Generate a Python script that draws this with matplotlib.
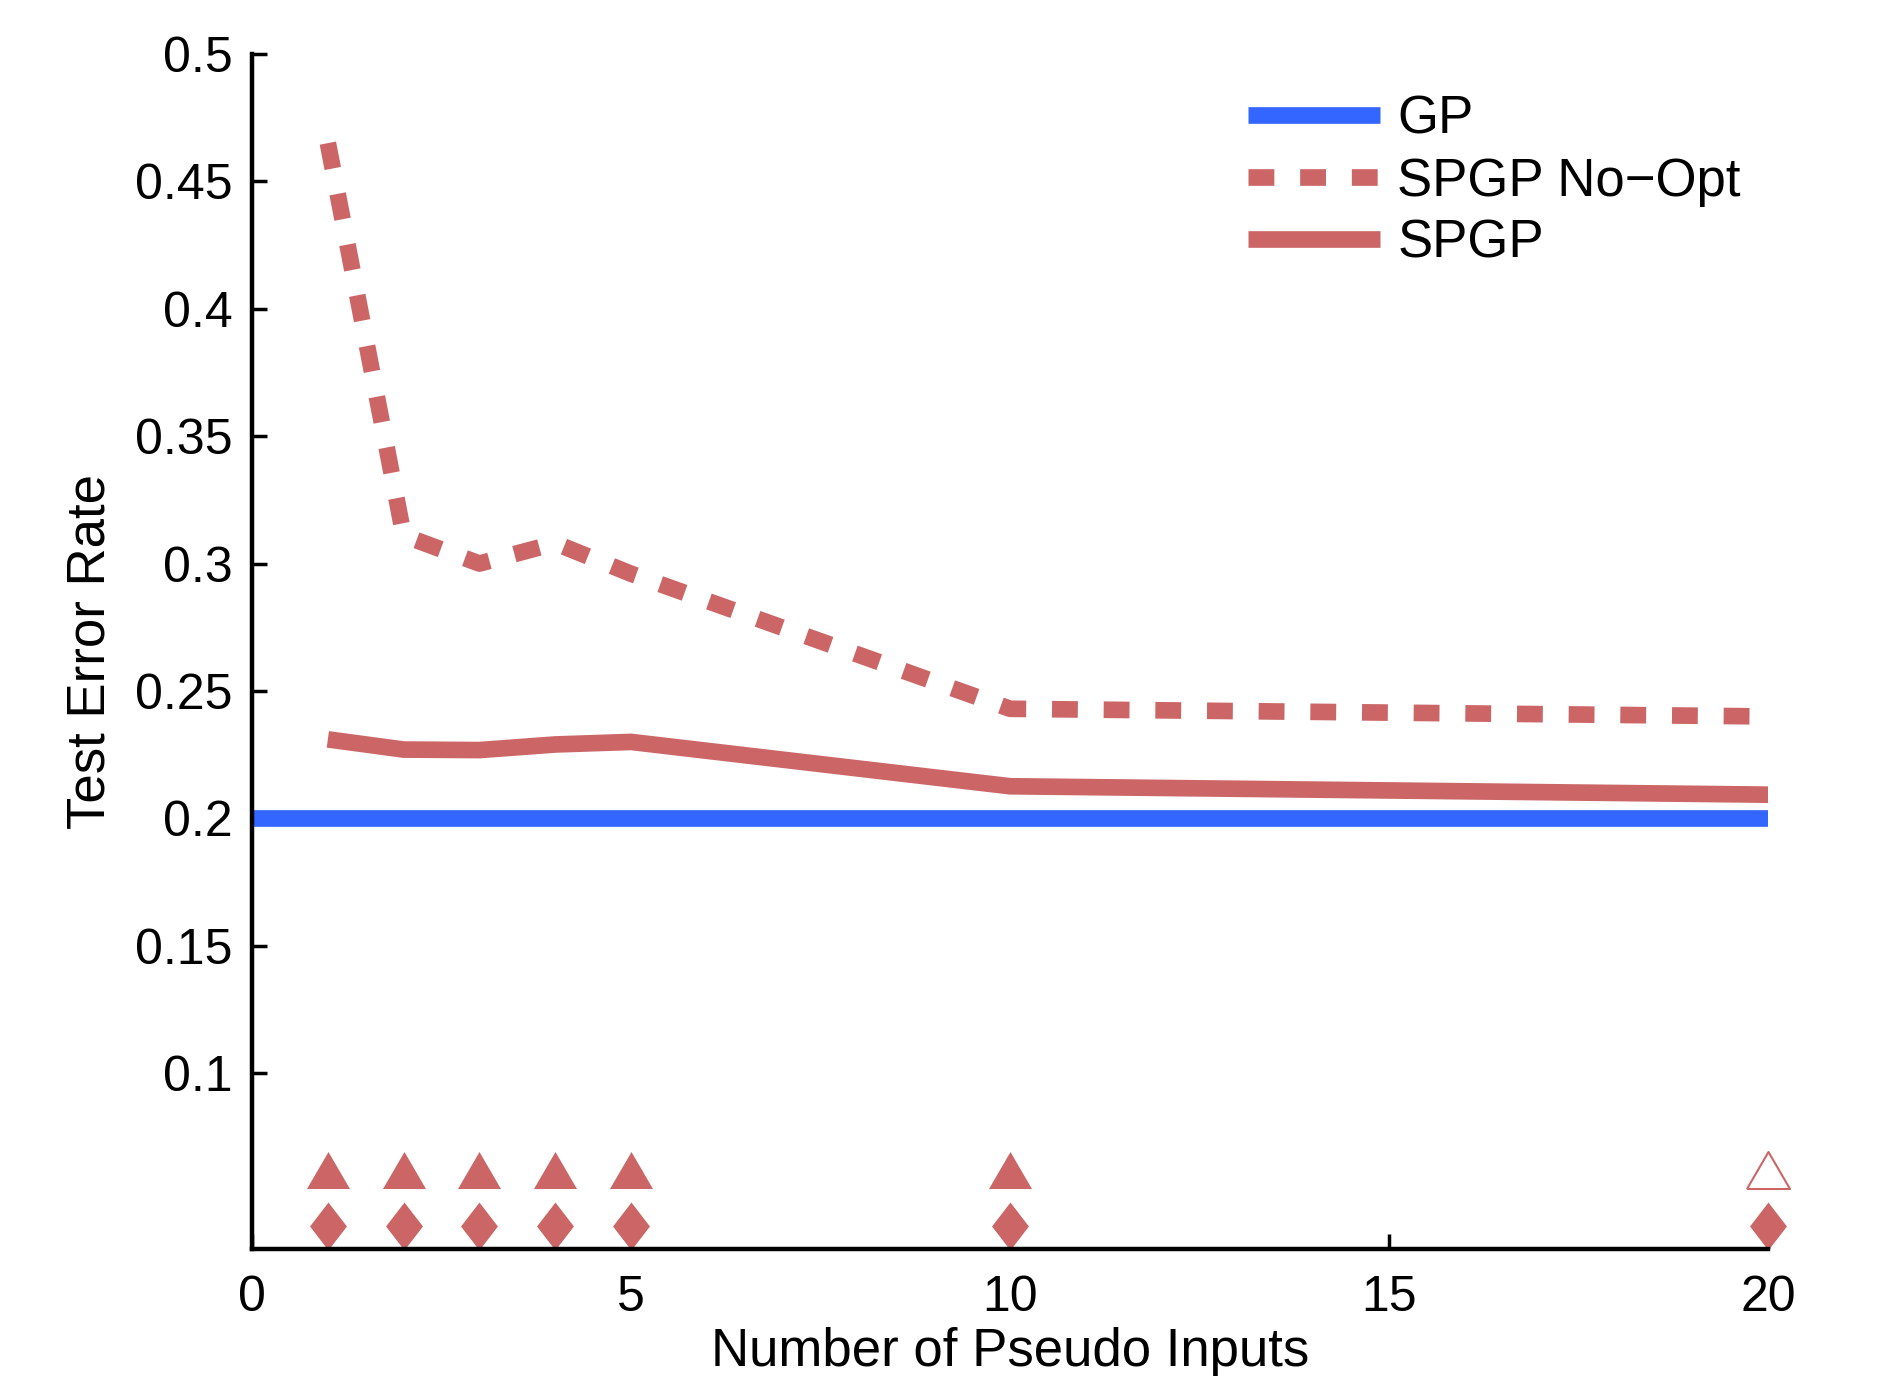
#!/usr/bin/env python3

import numpy as np
import matplotlib
matplotlib.use('Agg')
import matplotlib.pyplot as plt
from matplotlib.ticker import FuncFormatter

#data
n_pseudo = [1, 2, 3, 4, 5, 10, 20]
gp_x = [0, 20]
gp_err = [0.2, 0.2]
spgp_noopt = [0.465, 0.311, 0.300, 0.308, 0.296, 0.243, 0.240]
spgp = [0.231, 0.227, 0.2268, 0.229, 0.230, 0.2126, 0.2093]

#significance markers at the bottom
tri_y = [0.062] * 7
tri_filled = [True, True, True, True, True, True, False]
dia_y = [0.040] * 7

red = '#CC6666'
blue = '#3366FF'
fs = 36   # tick labels
lfs = 38  # axis labels, legend

plt.rcParams['font.family'] = ['Liberation Sans', 'DejaVu Sans']
plt.rcParams['font.size'] = fs

fig = plt.figure(figsize=(18.81, 13.76), dpi=100)
ax = fig.add_axes([0.134, 0.0923, 0.806, 0.8685])

lw = 12
ax.plot(gp_x, gp_err, color=blue, lw=lw, solid_capstyle='butt', label='GP')
ax.plot(n_pseudo, spgp_noopt, color=red, lw=lw, dashes=(1.55, 1.55),
        dash_capstyle='butt', label='SPGP No\u2212Opt')
ax.plot(n_pseudo, spgp, color=red, lw=lw, solid_capstyle='butt',
        solid_joinstyle='miter', label='SPGP')

#marker shapes (closed polygons)
tri = [(-0.5, -0.43), (0.5, -0.43), (0, 0.43), (-0.5, -0.43)]
dia = [(-0.385, 0), (0, 0.5), (0.385, 0), (0, -0.5), (-0.385, 0)]
for x, y, f in zip(n_pseudo, tri_y, tri_filled):
    ax.plot(x, y, marker=tri, ms=31, mfc=red if f else 'white', mec=red,
            mew=0 if f else 1.5, ls='none', clip_on=False)
ax.plot(n_pseudo, dia_y, marker=dia, ms=34.5, color=red, mew=0,
        ls='none', clip_on=False)

ax.set_xlim(0, 20)
ax.set_ylim(0.031, 0.5)
ax.set_xticks([0, 5, 10, 15, 20])
ax.set_yticks(np.arange(0.1, 0.501, 0.05))
ax.yaxis.set_major_formatter(FuncFormatter(lambda v, p: ('%.2f' % v).rstrip('0')))
ax.spines['top'].set_visible(False)
ax.spines['right'].set_visible(False)
for s in ['left', 'bottom']:
    ax.spines[s].set_linewidth(3.2)
ax.tick_params(direction='in', length=11, width=2.5, pad=14, labelsize=fs)
ax.tick_params(axis='x', pad=19)

ax.set_xlabel('Number of Pseudo Inputs', fontsize=lfs, labelpad=4)
ax.set_ylabel('Test Error Rate', fontsize=lfs, labelpad=14)

fig.legend(loc='upper left', bbox_to_anchor=(0.6635, 0.931), frameon=False,
           borderpad=0, borderaxespad=0, handlelength=2.5, handletextpad=0.33,
           labelspacing=0.22, fontsize=lfs)

fig.savefig('out.png', dpi=100)
